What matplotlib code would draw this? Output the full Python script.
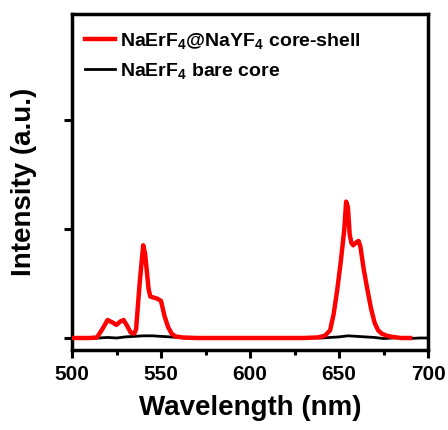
import numpy as np
import matplotlib
matplotlib.use("Agg")
from matplotlib import pyplot as plt
from matplotlib.ticker import MultipleLocator

plt.rcParams['font.family'] = ['Liberation Sans', 'DejaVu Sans']
plt.rcParams['font.weight'] = 'bold'
plt.rcParams['mathtext.fontset'] = 'custom'
plt.rcParams['mathtext.bf'] = 'Liberation Sans:bold'
plt.rcParams['mathtext.rm'] = 'Liberation Sans:bold'
plt.rcParams['mathtext.default'] = 'bf'

# core-shell spectrum (red)
wl_shell = [500, 510, 514, 517, 520, 523, 525, 527, 529, 531, 533, 535, 536, 538,
            540, 541, 542, 543, 544, 546, 548, 550, 552, 554, 556, 558, 562, 570,
            600, 630, 638, 642, 645, 647, 649, 651, 653, 654, 655, 656, 657, 658,
            660, 661, 662, 664, 666, 668, 670, 672, 674, 677, 680, 685, 690]
int_shell = [0, 0, 0.005, 0.08, 0.165, 0.14, 0.12, 0.15, 0.165, 0.11, 0.05, 0.04, 0.08, 0.5,
             0.85, 0.78, 0.62, 0.45, 0.38, 0.37, 0.36, 0.34, 0.2, 0.1, 0.04, 0.015, 0.005, 0,
             0, 0, 0.005, 0.02, 0.07, 0.22, 0.44, 0.7, 1.0, 1.25, 1.2, 0.95, 0.87, 0.85,
             0.88, 0.89, 0.84, 0.62, 0.44, 0.27, 0.14, 0.07, 0.04, 0.02, 0.01, 0, 0]

# bare core spectrum (black)
wl_core = [500, 505, 510, 515, 520, 525, 530, 535, 540, 545, 550, 555, 560, 565,
           570, 575, 580, 585, 590, 595, 600, 605, 610, 615, 620, 625, 630, 635,
           640, 645, 650, 655, 660, 665, 670, 675, 680, 685, 690, 695, 700]
int_core = [0.0, 0.005, -0.005, 0.0, 0.005, 0.0, 0.01, 0.015, 0.02, 0.02, 0.015, 0.01, 0.005, 0.0,
            -0.005, 0.0, 0.005, -0.005, 0.0, 0.0, 0.005, -0.005, 0.0, 0.005, 0.0, -0.005, 0.0, 0.005,
            0.0, 0.005, 0.01, 0.02, 0.015, 0.01, 0.005, -0.005, 0.0, 0.005, -0.005, 0.0, 0.0]

fig = plt.figure(figsize=(4.48, 4.30), dpi=100)
ax = fig.add_axes([72/448, 80/430, 356/448, 336/430])

ax.plot(wl_core, int_core, color='black', lw=2.0, label='NaErF$_4$ bare core', zorder=2)
ax.plot(wl_shell, int_shell, color='red', lw=3.2, label='NaErF$_4$@NaYF$_4$ core-shell', zorder=3)

ax.set_xlim(500, 700)
ax.set_ylim(-0.11, 2.97)
ax.xaxis.set_major_locator(MultipleLocator(50))
ax.xaxis.set_minor_locator(MultipleLocator(25))
ax.set_yticks([0, 1, 2])
ax.set_yticklabels([])

for s in ax.spines.values():
    s.set_linewidth(2.5)
ax.tick_params(axis='both', which='major', direction='out', length=6, width=2.2,
               labelsize=15, pad=5)
ax.tick_params(axis='x', which='minor', direction='out', length=3.5, width=2.2)
for lbl in ax.get_xticklabels():
    lbl.set_fontweight('bold')

ax.set_xlabel('Wavelength (nm)', fontsize=20, fontweight='bold', labelpad=8)
ax.set_ylabel('Intensity (a.u.)', fontsize=20, fontweight='bold', labelpad=14)

h, l = ax.get_legend_handles_labels()
ax.legend(h[::-1], l[::-1], loc='upper left', bbox_to_anchor=(0.0, 0.987), frameon=False,
          handlelength=1.55, handletextpad=0.25, borderaxespad=0.25, borderpad=0.4,
          labelspacing=0.5, prop={'weight': 'bold', 'size': 14})

fig.savefig('out.png', dpi=100)
